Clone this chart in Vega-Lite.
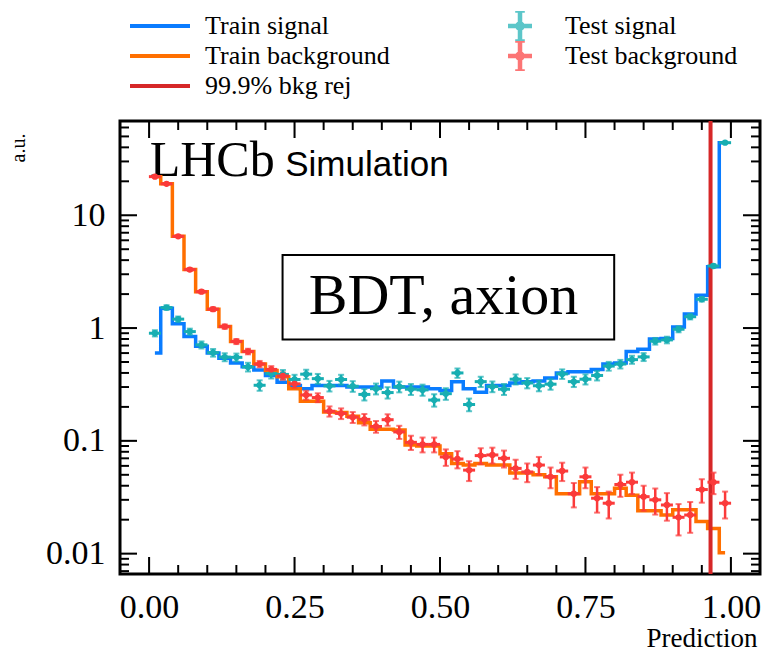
{
  "$schema": "https://vega.github.io/schema/vega-lite/v6.json",
  "width": 640,
  "height": 453,
  "autosize": "none",
  "padding": {"left": 120, "top": 121, "right": 6, "bottom": 77},
  "config": {
    "font": "Liberation Serif",
    "view": {"stroke": "black", "strokeWidth": 3},
    "axis": {"grid": false, "domain": false, "ticks": false, "labelFont": "Liberation Serif", "titleFont": "Liberation Serif", "titleFontWeight": "normal", "labelColor": "black", "titleColor": "black"}
  },
  "datasets": {
    "train": [
      {"s":"Train signal","x":0.01,"v":0.60},{"s":"Train signal","x":0.03,"v":1.50},{"s":"Train signal","x":0.05,"v":1.09},{"s":"Train signal","x":0.07,"v":0.84},{"s":"Train signal","x":0.09,"v":0.69},
      {"s":"Train signal","x":0.11,"v":0.60},{"s":"Train signal","x":0.13,"v":0.54},{"s":"Train signal","x":0.15,"v":0.49},{"s":"Train signal","x":0.17,"v":0.455},{"s":"Train signal","x":0.19,"v":0.425},
      {"s":"Train signal","x":0.21,"v":0.38},{"s":"Train signal","x":0.23,"v":0.33},{"s":"Train signal","x":0.25,"v":0.31},{"s":"Train signal","x":0.27,"v":0.29},{"s":"Train signal","x":0.29,"v":0.31},
      {"s":"Train signal","x":0.31,"v":0.31},{"s":"Train signal","x":0.33,"v":0.31},{"s":"Train signal","x":0.35,"v":0.30},{"s":"Train signal","x":0.37,"v":0.30},{"s":"Train signal","x":0.39,"v":0.30},
      {"s":"Train signal","x":0.41,"v":0.34},{"s":"Train signal","x":0.43,"v":0.30},{"s":"Train signal","x":0.45,"v":0.30},{"s":"Train signal","x":0.47,"v":0.30},{"s":"Train signal","x":0.49,"v":0.29},
      {"s":"Train signal","x":0.51,"v":0.28},{"s":"Train signal","x":0.53,"v":0.335},{"s":"Train signal","x":0.55,"v":0.29},{"s":"Train signal","x":0.57,"v":0.27},{"s":"Train signal","x":0.59,"v":0.31},
      {"s":"Train signal","x":0.61,"v":0.31},{"s":"Train signal","x":0.63,"v":0.325},{"s":"Train signal","x":0.65,"v":0.335},{"s":"Train signal","x":0.67,"v":0.34},{"s":"Train signal","x":0.69,"v":0.36},
      {"s":"Train signal","x":0.71,"v":0.40},{"s":"Train signal","x":0.73,"v":0.41},{"s":"Train signal","x":0.75,"v":0.41},{"s":"Train signal","x":0.77,"v":0.43},{"s":"Train signal","x":0.79,"v":0.48},
      {"s":"Train signal","x":0.81,"v":0.49},{"s":"Train signal","x":0.83,"v":0.62},{"s":"Train signal","x":0.85,"v":0.65},{"s":"Train signal","x":0.87,"v":0.80},{"s":"Train signal","x":0.89,"v":0.81},
      {"s":"Train signal","x":0.91,"v":1.02},{"s":"Train signal","x":0.93,"v":1.33},{"s":"Train signal","x":0.95,"v":1.95},{"s":"Train signal","x":0.97,"v":3.5},{"s":"Train signal","x":0.99,"v":44},
      {"s":"Train background","x":0.01,"v":22},{"s":"Train background","x":0.03,"v":19},{"s":"Train background","x":0.05,"v":6.5},{"s":"Train background","x":0.07,"v":3.3},{"s":"Train background","x":0.09,"v":2.1},
      {"s":"Train background","x":0.11,"v":1.47},{"s":"Train background","x":0.13,"v":1.03},{"s":"Train background","x":0.15,"v":0.76},{"s":"Train background","x":0.17,"v":0.62},{"s":"Train background","x":0.19,"v":0.48},
      {"s":"Train background","x":0.21,"v":0.42},{"s":"Train background","x":0.23,"v":0.37},{"s":"Train background","x":0.25,"v":0.29},{"s":"Train background","x":0.27,"v":0.225},{"s":"Train background","x":0.29,"v":0.225},
      {"s":"Train background","x":0.31,"v":0.18},{"s":"Train background","x":0.33,"v":0.178},{"s":"Train background","x":0.35,"v":0.165},{"s":"Train background","x":0.37,"v":0.145},{"s":"Train background","x":0.39,"v":0.127},
      {"s":"Train background","x":0.41,"v":0.127},{"s":"Train background","x":0.43,"v":0.125},{"s":"Train background","x":0.45,"v":0.092},{"s":"Train background","x":0.47,"v":0.09},{"s":"Train background","x":0.49,"v":0.09},
      {"s":"Train background","x":0.51,"v":0.077},{"s":"Train background","x":0.53,"v":0.063},{"s":"Train background","x":0.55,"v":0.061},{"s":"Train background","x":0.57,"v":0.063},{"s":"Train background","x":0.59,"v":0.061},
      {"s":"Train background","x":0.61,"v":0.061},{"s":"Train background","x":0.63,"v":0.052},{"s":"Train background","x":0.65,"v":0.052},{"s":"Train background","x":0.67,"v":0.05},{"s":"Train background","x":0.69,"v":0.048},
      {"s":"Train background","x":0.71,"v":0.034},{"s":"Train background","x":0.73,"v":0.034},{"s":"Train background","x":0.75,"v":0.0435},{"s":"Train background","x":0.77,"v":0.034},{"s":"Train background","x":0.79,"v":0.034},
      {"s":"Train background","x":0.81,"v":0.038},{"s":"Train background","x":0.83,"v":0.033},{"s":"Train background","x":0.85,"v":0.024},{"s":"Train background","x":0.87,"v":0.024},{"s":"Train background","x":0.89,"v":0.022},
      {"s":"Train background","x":0.91,"v":0.0245},{"s":"Train background","x":0.93,"v":0.0245},{"s":"Train background","x":0.95,"v":0.0193},{"s":"Train background","x":0.97,"v":0.0167},{"s":"Train background","x":0.99,"v":0.0102}
    ],
    "test": [
      {"s":"Test signal","x":0.01,"v":0.90,"e":0.057},{"s":"Test signal","x":0.03,"v":1.52,"e":0.074},{"s":"Test signal","x":0.05,"v":1.20,"e":0.066},{"s":"Test signal","x":0.07,"v":0.93,"e":0.058},{"s":"Test signal","x":0.09,"v":0.71,"e":0.051},
      {"s":"Test signal","x":0.11,"v":0.605,"e":0.047},{"s":"Test signal","x":0.13,"v":0.553,"e":0.045},{"s":"Test signal","x":0.15,"v":0.55,"e":0.044},{"s":"Test signal","x":0.17,"v":0.452,"e":0.040},{"s":"Test signal","x":0.19,"v":0.311,"e":0.033},
      {"s":"Test signal","x":0.21,"v":0.395,"e":0.038},{"s":"Test signal","x":0.23,"v":0.388,"e":0.037},{"s":"Test signal","x":0.25,"v":0.35,"e":0.035},{"s":"Test signal","x":0.27,"v":0.39,"e":0.037},{"s":"Test signal","x":0.29,"v":0.356,"e":0.036},
      {"s":"Test signal","x":0.31,"v":0.307,"e":0.033},{"s":"Test signal","x":0.33,"v":0.35,"e":0.035},{"s":"Test signal","x":0.35,"v":0.305,"e":0.033},{"s":"Test signal","x":0.37,"v":0.258,"e":0.030},{"s":"Test signal","x":0.39,"v":0.29,"e":0.032},
      {"s":"Test signal","x":0.41,"v":0.268,"e":0.031},{"s":"Test signal","x":0.43,"v":0.302,"e":0.033},{"s":"Test signal","x":0.45,"v":0.287,"e":0.032},{"s":"Test signal","x":0.47,"v":0.283,"e":0.032},{"s":"Test signal","x":0.49,"v":0.23,"e":0.029},
      {"s":"Test signal","x":0.51,"v":0.262,"e":0.031},{"s":"Test signal","x":0.53,"v":0.40,"e":0.038},{"s":"Test signal","x":0.55,"v":0.21,"e":0.027},{"s":"Test signal","x":0.57,"v":0.335,"e":0.035},{"s":"Test signal","x":0.59,"v":0.303,"e":0.033},
      {"s":"Test signal","x":0.61,"v":0.287,"e":0.032},{"s":"Test signal","x":0.63,"v":0.352,"e":0.036},{"s":"Test signal","x":0.65,"v":0.326,"e":0.034},{"s":"Test signal","x":0.67,"v":0.308,"e":0.033},{"s":"Test signal","x":0.69,"v":0.318,"e":0.034},
      {"s":"Test signal","x":0.71,"v":0.392,"e":0.038},{"s":"Test signal","x":0.73,"v":0.335,"e":0.035},{"s":"Test signal","x":0.75,"v":0.352,"e":0.036},{"s":"Test signal","x":0.77,"v":0.38,"e":0.037},{"s":"Test signal","x":0.79,"v":0.46,"e":0.041},
      {"s":"Test signal","x":0.81,"v":0.48,"e":0.042},{"s":"Test signal","x":0.83,"v":0.525,"e":0.043},{"s":"Test signal","x":0.85,"v":0.555,"e":0.045},{"s":"Test signal","x":0.87,"v":0.765,"e":0.052},{"s":"Test signal","x":0.89,"v":0.785,"e":0.053},
      {"s":"Test signal","x":0.91,"v":0.976,"e":0.059},{"s":"Test signal","x":0.93,"v":1.26,"e":0.067},{"s":"Test signal","x":0.95,"v":1.8,"e":0.080},{"s":"Test signal","x":0.97,"v":3.55,"e":0.113},{"s":"Test signal","x":0.99,"v":44,"e":0.40},
      {"s":"Test background","x":0.01,"v":22,"e":0.211},{"s":"Test background","x":0.03,"v":19,"e":0.196},{"s":"Test background","x":0.05,"v":6.5,"e":0.115},{"s":"Test background","x":0.07,"v":3.3,"e":0.082},{"s":"Test background","x":0.09,"v":2.1,"e":0.065},
      {"s":"Test background","x":0.11,"v":1.47,"e":0.055},{"s":"Test background","x":0.13,"v":1.03,"e":0.046},{"s":"Test background","x":0.15,"v":0.76,"e":0.039},{"s":"Test background","x":0.17,"v":0.62,"e":0.035},{"s":"Test background","x":0.19,"v":0.48,"e":0.031},
      {"s":"Test background","x":0.21,"v":0.43,"e":0.030},{"s":"Test background","x":0.23,"v":0.376,"e":0.028},{"s":"Test background","x":0.25,"v":0.32,"e":0.025},{"s":"Test background","x":0.27,"v":0.255,"e":0.023},{"s":"Test background","x":0.29,"v":0.242,"e":0.022},
      {"s":"Test background","x":0.31,"v":0.183,"e":0.019},{"s":"Test background","x":0.33,"v":0.175,"e":0.019},{"s":"Test background","x":0.35,"v":0.162,"e":0.018},{"s":"Test background","x":0.37,"v":0.155,"e":0.018},{"s":"Test background","x":0.39,"v":0.134,"e":0.016},
      {"s":"Test background","x":0.41,"v":0.154,"e":0.018},{"s":"Test background","x":0.43,"v":0.12,"e":0.016},{"s":"Test background","x":0.45,"v":0.097,"e":0.014},{"s":"Test background","x":0.47,"v":0.093,"e":0.014},{"s":"Test background","x":0.49,"v":0.093,"e":0.014},
      {"s":"Test background","x":0.51,"v":0.072,"e":0.012},{"s":"Test background","x":0.53,"v":0.069,"e":0.012},{"s":"Test background","x":0.55,"v":0.055,"e":0.011},{"s":"Test background","x":0.57,"v":0.074,"e":0.012},{"s":"Test background","x":0.59,"v":0.075,"e":0.012},
      {"s":"Test background","x":0.61,"v":0.070,"e":0.012},{"s":"Test background","x":0.63,"v":0.057,"e":0.011},{"s":"Test background","x":0.65,"v":0.053,"e":0.010},{"s":"Test background","x":0.67,"v":0.061,"e":0.011},{"s":"Test background","x":0.69,"v":0.048,"e":0.010},
      {"s":"Test background","x":0.71,"v":0.054,"e":0.010},{"s":"Test background","x":0.73,"v":0.034,"e":0.0083},{"s":"Test background","x":0.75,"v":0.048,"e":0.010},{"s":"Test background","x":0.77,"v":0.031,"e":0.0079},{"s":"Test background","x":0.79,"v":0.028,"e":0.0075},
      {"s":"Test background","x":0.81,"v":0.041,"e":0.0091},{"s":"Test background","x":0.83,"v":0.043,"e":0.0093},{"s":"Test background","x":0.85,"v":0.032,"e":0.0080},{"s":"Test background","x":0.87,"v":0.030,"e":0.0078},{"s":"Test background","x":0.89,"v":0.027,"e":0.0074},
      {"s":"Test background","x":0.91,"v":0.021,"e":0.0065},{"s":"Test background","x":0.93,"v":0.022,"e":0.0067},{"s":"Test background","x":0.95,"v":0.037,"e":0.0087},{"s":"Test background","x":0.97,"v":0.043,"e":0.0093},{"s":"Test background","x":0.99,"v":0.028,"e":0.0075}
    ],
    "xmaj": [{"v":0},{"v":0.25},{"v":0.5},{"v":0.75},{"v":1}],
    "xmin": [{"v":0.05},{"v":0.1},{"v":0.15},{"v":0.2},{"v":0.3},{"v":0.35},{"v":0.4},{"v":0.45},{"v":0.55},{"v":0.6},{"v":0.65},{"v":0.7},{"v":0.8},{"v":0.85},{"v":0.9},{"v":0.95}],
    "ymaj": [{"v":0.01},{"v":0.1},{"v":1},{"v":10}],
    "ymin": [{"v":0.007},{"v":0.008},{"v":0.009},{"v":0.02},{"v":0.03},{"v":0.04},{"v":0.05},{"v":0.06},{"v":0.07},{"v":0.08},{"v":0.09},
      {"v":0.2},{"v":0.3},{"v":0.4},{"v":0.5},{"v":0.6},{"v":0.7},{"v":0.8},{"v":0.9},{"v":2},{"v":3},{"v":4},{"v":5},{"v":6},{"v":7},{"v":8},{"v":9},
      {"v":20},{"v":30},{"v":40},{"v":50},{"v":60}],
    "thr": [{"s":"99.9% bkg rej","x":0.965}],
    "box": [{"x":0.2294,"x2":0.7994,"y":4.45,"y2":0.792}],
    "lhcb": [{"t":"LHCb","x":0.001,"y":22.5}],
    "sim": [{"t":"Simulation","x":0.234,"y":22.5}],
    "bdt": [{"t":"BDT, axion","x":0.506,"y":1.9}]
  },
  "layer": [
    {
      "data": {"name": "box"},
      "mark": {"type": "rect", "fill": "white", "stroke": "black", "strokeWidth": 2},
      "encoding": {
        "x": {"field": "x", "type": "quantitative", "title": "Prediction", "scale": {"domain": [-0.05, 1.05], "nice": false, "zero": false},
          "axis": {"values": [0,0.25,0.5,0.75,1], "format": ".2f", "labelFontSize": 34, "labelPadding": 16, "labelBaseline": "top", "labelFlush": false,
            "title": "Prediction", "titleFontSize": 27, "titleAnchor": "end", "titleAlign": "right", "titleBaseline": "alphabetic", "titleX": 637, "titleY": 72}},
        "x2": {"field": "x2"},
        "y": {"field": "y", "type": "quantitative", "title": "a.u.", "scale": {"type": "log", "domain": [0.0066, 68.5], "nice": false},
          "axis": {"values": [0.01,0.1,1,10], "labelExpr": "datum.value==10 ? '10' : datum.value==1 ? '1' : datum.value==0.1 ? '0.1' : '0.01'", "labelFontSize": 34, "labelPadding": 15, "labelFlush": false,
            "title": "a.u.", "titleFontSize": 20, "titleAngle": -90, "titleAlign": "right", "titleBaseline": "middle", "titleX": -102, "titleY": 12}},
        "y2": {"field": "y2"}
      }
    },
    {
      "data": {"name": "lhcb"},
      "mark": {"type": "text", "font": "Liberation Serif", "fontSize": 50, "align": "left", "baseline": "alphabetic", "color": "black"},
      "encoding": {
        "x": {"field": "x", "type": "quantitative", "title": "Prediction"},
        "y": {"field": "y", "type": "quantitative", "title": "a.u."},
        "text": {"field": "t"}
      }
    },
    {
      "data": {"name": "sim"},
      "mark": {"type": "text", "font": "Liberation Sans", "fontSize": 35, "align": "left", "baseline": "alphabetic", "color": "black"},
      "encoding": {
        "x": {"field": "x", "type": "quantitative", "title": "Prediction"},
        "y": {"field": "y", "type": "quantitative", "title": "a.u."},
        "text": {"field": "t"}
      }
    },
    {
      "data": {"name": "bdt"},
      "mark": {"type": "text", "font": "Liberation Serif", "fontSize": 58, "align": "center", "baseline": "middle", "color": "black"},
      "encoding": {
        "x": {"field": "x", "type": "quantitative", "title": "Prediction"},
        "y": {"field": "y", "type": "quantitative", "title": "a.u."},
        "text": {"field": "t"}
      }
    },
    {
      "data": {"name": "train"},
      "mark": {"type": "line", "interpolate": "step", "strokeWidth": 3.5},
      "encoding": {
        "x": {"field": "x", "type": "quantitative", "title": "Prediction"},
        "y": {"field": "v", "type": "quantitative", "title": "a.u."},
        "stroke": {"field": "s", "type": "nominal",
          "scale": {"domain": ["Train signal", "Train background", "99.9% bkg rej"], "range": ["#0a7cff", "#ff6f00", "#d62728"]},
          "legend": {"orient": "none", "legendX": 23, "legendY": -112, "title": null, "symbolType": "M-2,0H2", "symbolSize": 900, "symbolStrokeWidth": 4, "symbolFillColor": "transparent", "labelFont": "Liberation Serif", "labelFontSize": 26, "labelOffset": 28, "labelLimit": 400, "rowPadding": 0, "padding": 0, "labelColor": "black"}}
      }
    },
    {
      "data": {"name": "thr"},
      "mark": {"type": "rule", "strokeWidth": 4},
      "encoding": {
        "x": {"field": "x", "type": "quantitative", "title": "Prediction"},
        "stroke": {"field": "s", "type": "nominal"}
      }
    },
    {
      "data": {"name": "test"},
      "mark": {"type": "errorbar", "thickness": 2.5, "ticks": {"size": 6, "thickness": 2}},
      "encoding": {
        "x": {"field": "x", "type": "quantitative", "title": "Prediction"},
        "y": {"field": "v", "type": "quantitative", "title": "a.u."},
        "yError": {"field": "e"},
        "color": {"field": "s", "type": "nominal"}
      }
    },
    {
      "data": {"name": "test"},
      "mark": {"type": "point", "shape": "M-1,-0.25H1V0.25H-1Z", "size": 144, "filled": true, "opacity": 1, "strokeWidth": 0},
      "encoding": {
        "x": {"field": "x", "type": "quantitative", "title": "Prediction"},
        "y": {"field": "v", "type": "quantitative", "title": "a.u."},
        "color": {"field": "s", "type": "nominal"}
      }
    },
    {
      "data": {"name": "test"},
      "mark": {"type": "circle", "size": 40, "opacity": 1},
      "encoding": {
        "x": {"field": "x", "type": "quantitative", "title": "Prediction"},
        "y": {"field": "v", "type": "quantitative", "title": "a.u."},
        "color": {"field": "s", "type": "nominal",
          "scale": {"domain": ["Test signal", "Test background"], "range": ["#17aeb2", "#fb3a3a"]},
          "legend": {"orient": "none", "legendX": 385, "legendY": -110, "title": null,
            "symbolType": "M-0.15,-1H0.15V-0.15H0.8V0.15H0.15V1H-0.15V0.15H-0.8V-0.15H-0.15Z M-0.32,-1H0.32V-0.88H-0.32Z M-0.32,0.88H0.32V1H-0.32Z M-0.32,0A0.32,0.32 0 1,1 0.32,0A0.32,0.32 0 1,1 -0.32,0Z",
            "symbolSize": 900, "symbolStrokeWidth": 0, "symbolOpacity": 1, "labelFont": "Liberation Serif", "labelFontSize": 26, "labelOffset": 30, "labelLimit": 400, "rowPadding": 0, "padding": 0, "labelColor": "black"}}
      }
    },
    {
      "data": {"name": "xmaj"},
      "mark": {"type": "point", "shape": "M-0.06,-1H0.06V0H-0.06Z", "size": 1156, "filled": true, "color": "black", "opacity": 1, "strokeWidth": 0},
      "encoding": {"x": {"field": "v", "type": "quantitative", "title": "Prediction"}, "y": {"value": "height"}}
    },
    {
      "data": {"name": "xmin"},
      "mark": {"type": "point", "shape": "M-0.11,-1H0.11V0H-0.11Z", "size": 324, "filled": true, "color": "black", "opacity": 1, "strokeWidth": 0},
      "encoding": {"x": {"field": "v", "type": "quantitative", "title": "Prediction"}, "y": {"value": "height"}}
    },
    {
      "data": {"name": "xmaj"},
      "mark": {"type": "point", "shape": "M-0.06,0H0.06V1H-0.06Z", "size": 1156, "filled": true, "color": "black", "opacity": 1, "strokeWidth": 0},
      "encoding": {"x": {"field": "v", "type": "quantitative", "title": "Prediction"}, "y": {"value": 0}}
    },
    {
      "data": {"name": "xmin"},
      "mark": {"type": "point", "shape": "M-0.11,0H0.11V1H-0.11Z", "size": 324, "filled": true, "color": "black", "opacity": 1, "strokeWidth": 0},
      "encoding": {"x": {"field": "v", "type": "quantitative", "title": "Prediction"}, "y": {"value": 0}}
    },
    {
      "data": {"name": "ymaj"},
      "mark": {"type": "point", "shape": "M0,-0.06H1V0.06H0Z", "size": 1156, "filled": true, "color": "black", "opacity": 1, "strokeWidth": 0},
      "encoding": {"y": {"field": "v", "type": "quantitative", "title": "a.u."}, "x": {"value": 0}}
    },
    {
      "data": {"name": "ymin"},
      "mark": {"type": "point", "shape": "M0,-0.11H1V0.11H0Z", "size": 324, "filled": true, "color": "black", "opacity": 1, "strokeWidth": 0},
      "encoding": {"y": {"field": "v", "type": "quantitative", "title": "a.u."}, "x": {"value": 0}}
    },
    {
      "data": {"name": "ymaj"},
      "mark": {"type": "point", "shape": "M-1,-0.06H0V0.06H-1Z", "size": 1156, "filled": true, "color": "black", "opacity": 1, "strokeWidth": 0},
      "encoding": {"y": {"field": "v", "type": "quantitative", "title": "a.u."}, "x": {"value": "width"}}
    },
    {
      "data": {"name": "ymin"},
      "mark": {"type": "point", "shape": "M-1,-0.11H0V0.11H-1Z", "size": 324, "filled": true, "color": "black", "opacity": 1, "strokeWidth": 0},
      "encoding": {"y": {"field": "v", "type": "quantitative", "title": "a.u."}, "x": {"value": "width"}}
    }
  ]
}
